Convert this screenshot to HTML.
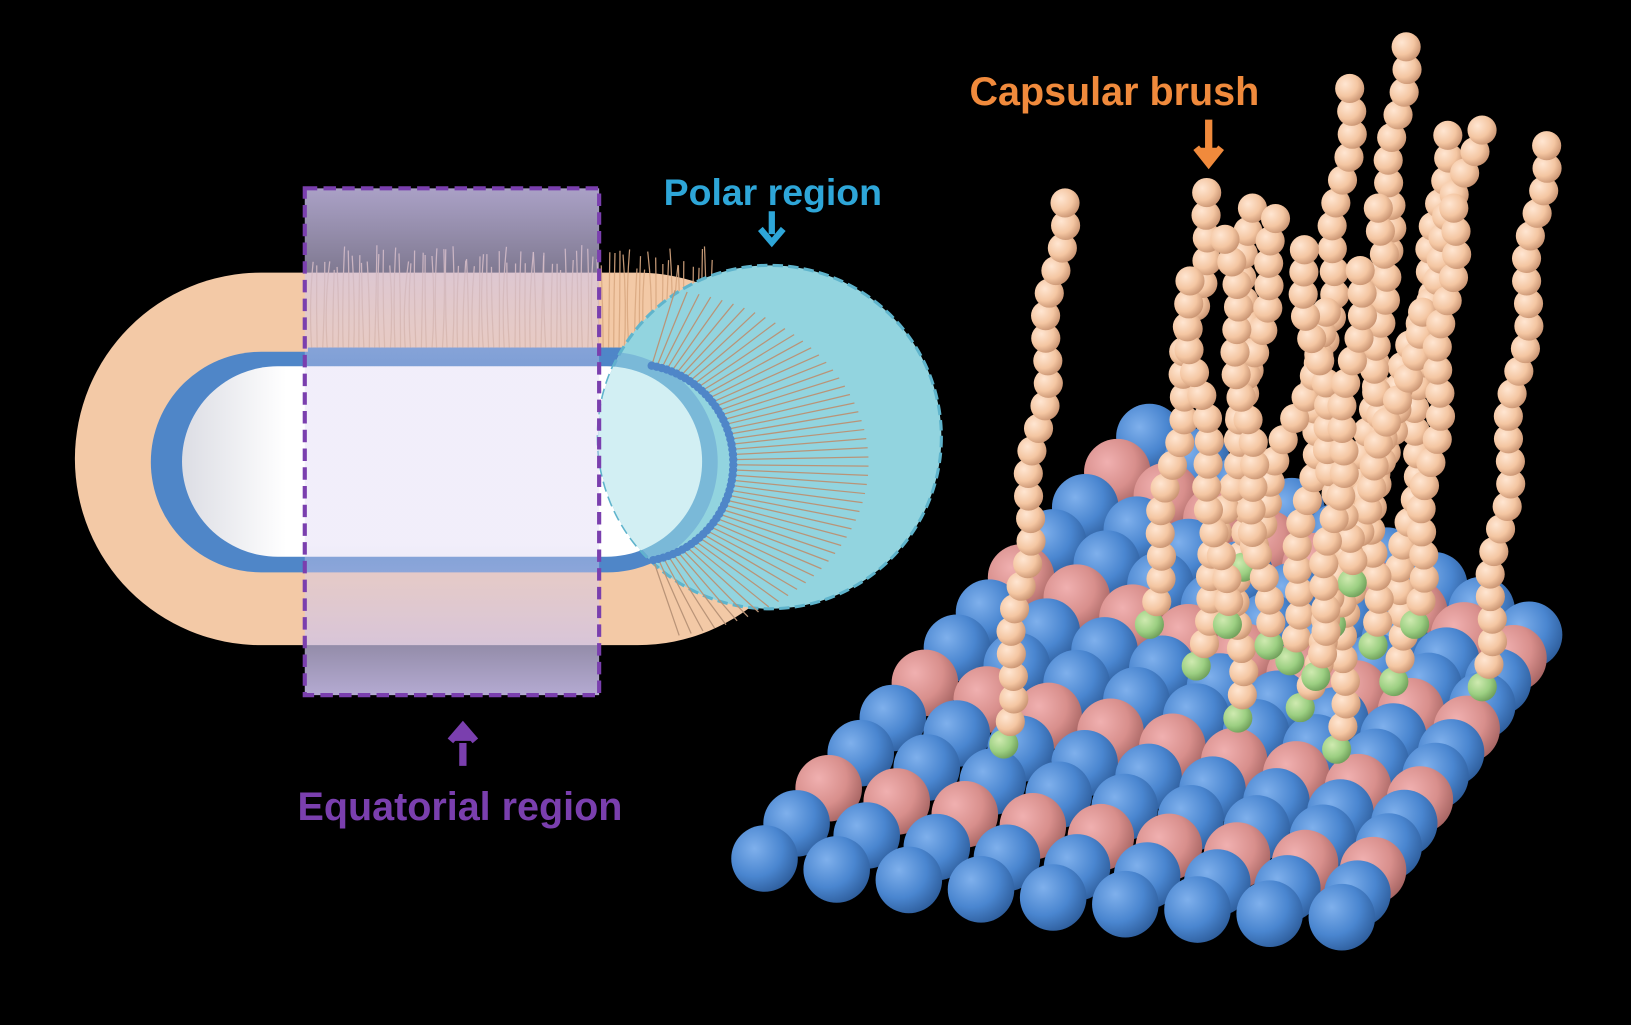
<!DOCTYPE html>
<html><head><meta charset="utf-8"><style>
html,body{margin:0;padding:0;background:#000;overflow:hidden}
svg{display:block}
text{font-family:"Liberation Sans",sans-serif;font-weight:bold}
</style></head><body>
<svg id="s" width="1631" height="1025" viewBox="0 0 1568 985" preserveAspectRatio="none" xmlns="http://www.w3.org/2000/svg">
<defs>
<radialGradient id="gb" cx="35%" cy="35%" r="70%"><stop offset="0" stop-color="#7fb0ec"/><stop offset="0.6" stop-color="#4a86d0"/><stop offset="1" stop-color="#2f5f9e"/></radialGradient>
<radialGradient id="gp" cx="35%" cy="35%" r="70%"><stop offset="0" stop-color="#f0b0b0"/><stop offset="0.6" stop-color="#d88f8c"/><stop offset="1" stop-color="#a86664"/></radialGradient>
<radialGradient id="go" cx="35%" cy="35%" r="70%"><stop offset="0" stop-color="#ffe6d2"/><stop offset="0.6" stop-color="#f4c6a2"/><stop offset="1" stop-color="#c99472"/></radialGradient>
<radialGradient id="gg" cx="35%" cy="35%" r="70%"><stop offset="0" stop-color="#cfeab0"/><stop offset="0.6" stop-color="#9ccf82"/><stop offset="1" stop-color="#6f9f5a"/></radialGradient>
<linearGradient id="gw" x1="0" x2="1"><stop offset="0" stop-color="#dcdde4"/><stop offset="0.2" stop-color="#fff"/><stop offset="1" stop-color="#fff"/></linearGradient>
<linearGradient id="gl" x1="0" y1="0" x2="0" y2="1"><stop offset="0" stop-color="#c8bde9" stop-opacity="0.85"/><stop offset="0.35" stop-color="#d8cff0" stop-opacity="0.35"/><stop offset="0.7" stop-color="#d8cff0" stop-opacity="0.35"/><stop offset="1" stop-color="#c8bde9" stop-opacity="0.9"/></linearGradient>
<clipPath id="cc"><circle cx="740" cy="420" r="165"/></clipPath>
</defs>
<rect width="1568" height="985" fill="#000"/>
<rect x="72" y="262" width="720" height="358" rx="179" fill="#f3c9a6"/>
<rect x="145" y="338" width="545" height="212" rx="106" fill="#4f86c8"/>
<rect x="175" y="352" width="500" height="183" rx="92" fill="url(#gw)"/>
<g id="hairs"></g>
<circle cx="740" cy="420" r="165" fill="#92d4df" stroke="#5fb4cc" stroke-width="3" stroke-dasharray="10,5"/>
<g clip-path="url(#cc)"><rect x="145" y="338" width="545" height="212" rx="106" fill="#6aa6d4" opacity="0.6"/><rect x="175" y="352" width="500" height="183" rx="92" fill="#d2eff3"/></g>
<g id="hairs2"></g>
<rect x="293" y="181" width="283" height="487" fill="url(#gl)" stroke="#7a3fae" stroke-width="4" stroke-dasharray="12,6"/>
<text x="638" y="197" font-size="36" fill="#2ea6d8">Polar region</text>
<path d="M742 203 v22 M731 220 l11 13 l11 -13" stroke="#2ea6d8" stroke-width="6" fill="none"/>
<path d="M445 736 v-22 M433 712 l12 -14 l12 14" stroke="#7a3fae" stroke-width="7" fill="#7a3fae"/>
<text x="286" y="788" font-size="38" fill="#7a3fae">Equatorial region</text>
<text x="932" y="101" font-size="38" fill="#f08a3c">Capsular brush</text>
<path d="M1162 115 v30 M1150 142 l12 15 l12 -15" stroke="#f08a3c" stroke-width="7" fill="#f08a3c"/>
<g id="grid"></g>
<g id="chains"></g>
</svg>
<script>
var NS="http://www.w3.org/2000/svg";
function el(p,t,a){var e=document.createElementNS(NS,t);for(var k in a)e.setAttribute(k,a[k]);p.appendChild(e);return e;}
var h=document.getElementById('hairs');
for(var x=300;x<690;x+=5){var y0=340,len=80+Math.random()*25;
 el(h,'path',{d:'M'+x+' '+y0+' q'+(Math.random()*8-4)+' '+(-len/2)+' '+(Math.random()*6-3)+' '+(-len),stroke:'#d9a882','stroke-width':1.2,fill:'none','stroke-opacity':0.9});
 el(h,'rect',{x:x-4,y:y0-6,width:8,height:8,fill:'#4f86c8'});}
var h2=document.getElementById('hairs2');
for(var a=-80;a<=80;a+=3){var r=a*Math.PI/180,cx=610,cy=445;
 var x1=cx+95*Math.cos(r),y1=cy+95*Math.sin(r),x2=cx+225*Math.cos(r),y2=cy+225*Math.sin(r)*0.75;
 el(h2,'line',{x1:x1,y1:y1,x2:x2,y2:y2,stroke:'#b99478','stroke-width':1.2});
 el(h2,'circle',{cx:x1,cy:y1,r:4,fill:'#4f86c8'});}
var g=document.getElementById('grid');
var N=9,M=13;
var items=[];
for(var i=0;i<N;i++){var t=i/(N-1);
 var bx=735+t*(1290-735),by=825+t*(880-825)+Math.sin(t*3)*10;
 var tx=1105+t*(1470-1105),ty=420+t*(610-420);
 for(var j=0;j<M;j++){var u=j/(M-1);
  items.push({x:bx+(tx-bx)*u,y:by+(ty-by)*u,c:(j%3==2)?'url(#gp)':'url(#gb)',z:by+(ty-by)*u});}}
items.sort(function(a,b){return a.z-b.z});
items.forEach(function(o){el(g,'circle',{cx:o.x,cy:o.y,r:32,fill:o.c});});
var c=document.getElementById('chains');
var ch=[[965,715,1022,195],[1105,600,1165,185],[1190,690,1200,200],[1150,640,1230,210],[1240,635,1300,85],[1285,720,1350,45],[1340,655,1390,130],[1280,600,1420,125],[1425,660,1485,140],[1195,545,1280,300],[1320,620,1330,200],[1250,680,1370,300],[1180,600,1140,270],[1300,560,1250,240],[1220,620,1180,230],[1265,650,1310,260],[1360,600,1400,200]];
ch.forEach(function(q){var n=Math.round(Math.hypot(q[2]-q[0],q[3]-q[1])/22);
 for(var k=0;k<=n;k++){var u=k/n;var x=q[0]+(q[2]-q[0])*u+Math.sin(k*0.9)*5,y=q[1]+(q[3]-q[1])*u;
  el(c,'circle',{cx:x,cy:y,r:14,fill:k==0?'url(#gg)':'url(#go)'});}});
</script>
</body></html>
